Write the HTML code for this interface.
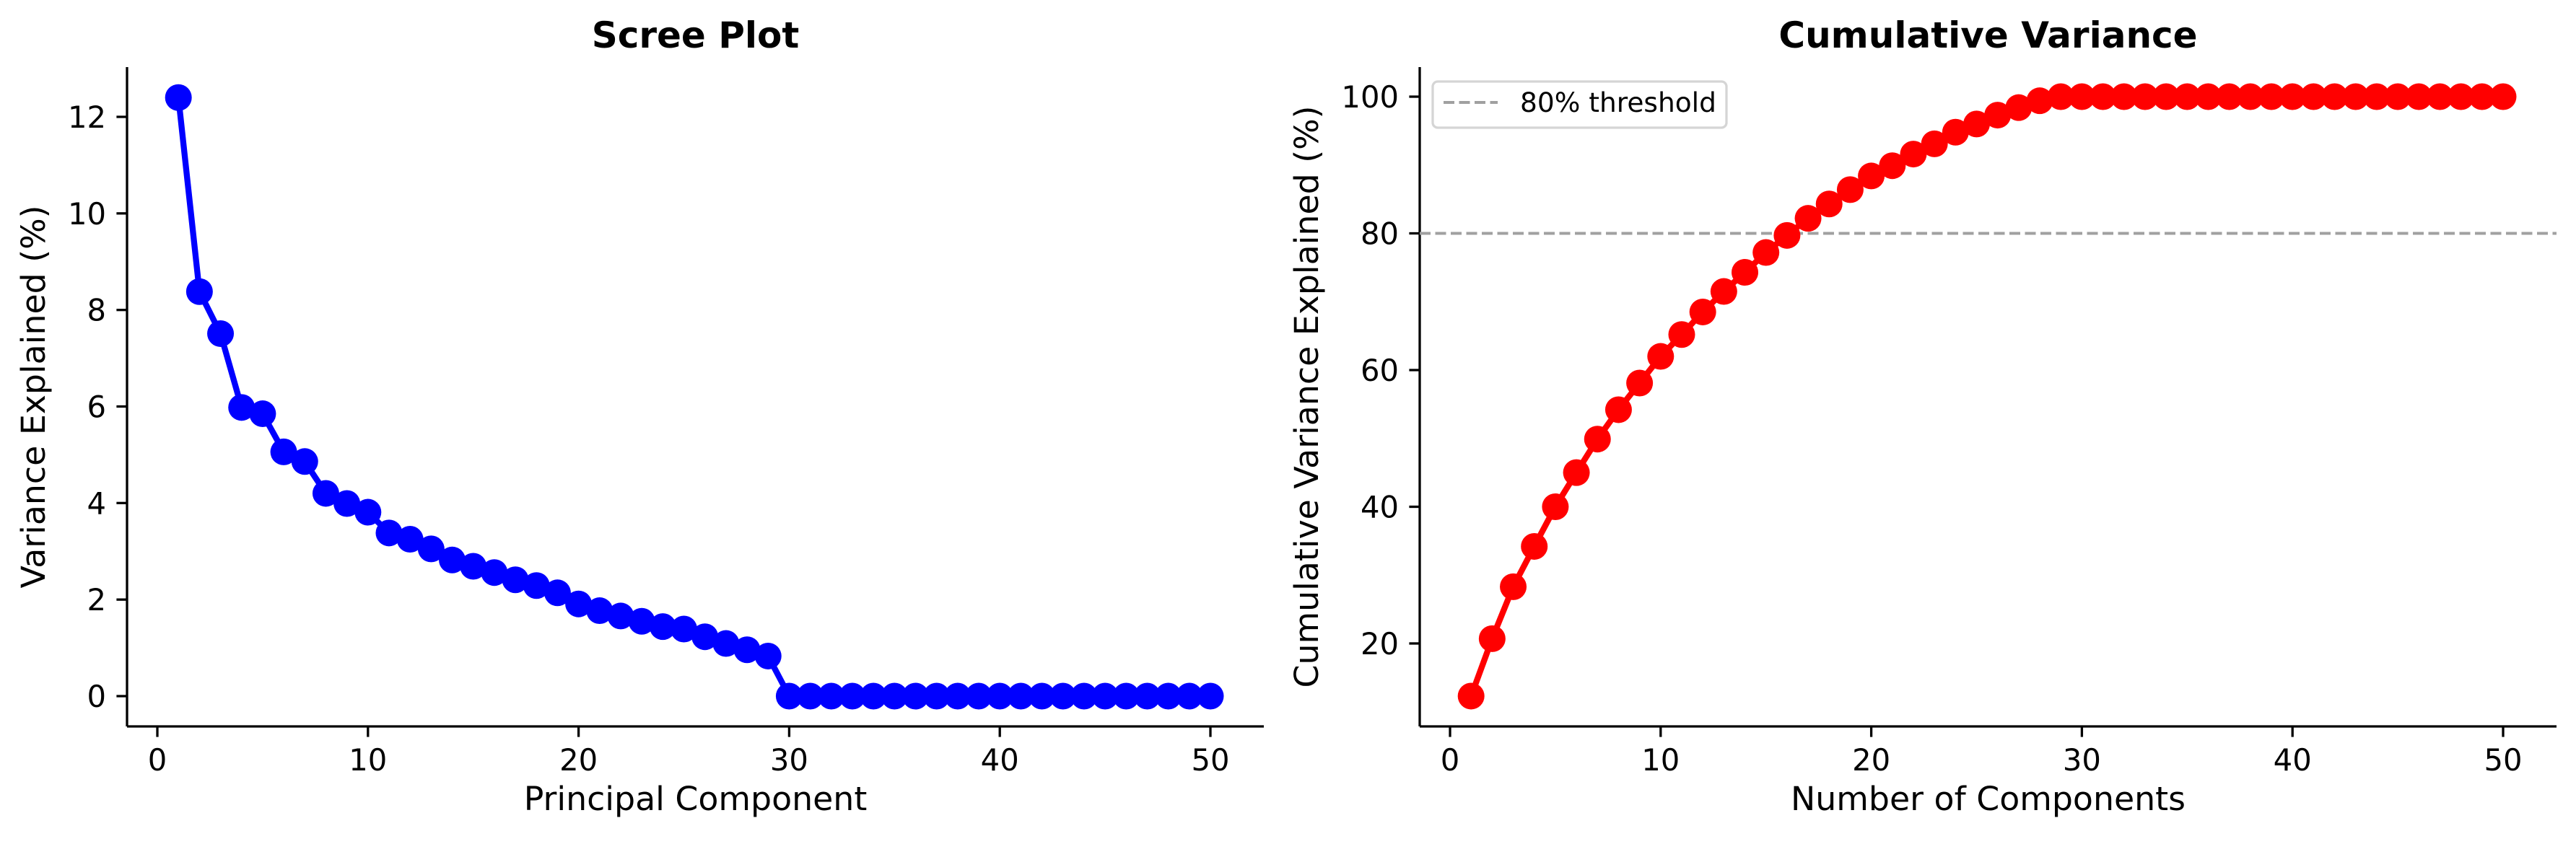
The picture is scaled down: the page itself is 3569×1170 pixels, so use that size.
<!DOCTYPE html>
<html><head><meta charset="utf-8"><style>
html,body{margin:0;padding:0;background:#fff;}
svg{display:block;font-family:"DejaVu Sans","Liberation Sans",sans-serif;}
</style></head><body>
<svg id="chart" width="3569" height="1170" viewBox="0 0 3569 1170" xmlns="http://www.w3.org/2000/svg">
<g id="left"></g>
<g id="right"></g>
</svg>
<script>
const components = Array.from({length:50},(_, i)=>i+1);
const screeValues = [12.4,8.38,7.51,5.98,5.85,5.06,4.86,4.2,3.99,3.81,3.38,3.25,3.05,2.82,2.69,2.56,2.41,2.29,2.14,1.91,1.77,1.66,1.55,1.44,1.39,1.23,1.09,0.96,0.83,0,0,0,0,0,0,0,0,0,0,0,0,0,0,0,0,0,0,0,0,0];
const cumulativeValues = [12.3,20.7,28.3,34.2,40.0,45.0,49.9,54.2,58.1,62.0,65.2,68.5,71.5,74.3,77.2,79.7,82.2,84.3,86.4,88.4,89.9,91.6,93.1,94.8,96.0,97.3,98.4,99.4,100,100,100,100,100,100,100,100,100,100,100,100,100,100,100,100,100,100,100,100,100,100];
const xTicks = [0,10,20,30,40,50];
const leftYTicks = [0,2,4,6,8,10,12];
const rightYTicks = [20,40,60,80,100];
const thresholdValue = [80];

const NS='http://www.w3.org/2000/svg';
function mk(parent,tag,attrs,text){const e=document.createElementNS(NS,tag);for(const k in attrs)e.setAttribute(k,attrs[k]);if(text!==undefined)e.textContent=text;parent.appendChild(e);return e;}

function panel(g,o){
  const sx=v=>o.x0+(v-0)*(o.x50-o.x0)/50;
  const sy=v=>o.yA+(v-o.vA)*(o.yB-o.yA)/(o.vB-o.vA);
  let e=mk(g,'line',{x1:o.L,y1:o.B,x2:o.R,y2:o.B,stroke:'#000','stroke-width':3.3});
  
  e=mk(g,'line',{x1:o.L,y1:o.T,x2:o.L,y2:o.B,stroke:'#000','stroke-width':3.3});
  
  xTicks.forEach(t=>{
    const x=sx(t);
    let l=mk(g,'line',{x1:x,y1:o.B,x2:x,y2:o.B+14.6,stroke:'#000','stroke-width':3.3});
    
    let tx=mk(g,'text',{x:x,y:1068,'font-size':41.7,'text-anchor':'middle',fill:'#000'},String(t));
    
  });
  o.yTicks.forEach(t=>{
    const y=sy(t);
    let l=mk(g,'line',{x1:o.L-14.6,y1:y,x2:o.L,y2:y,stroke:'#000','stroke-width':3.3});
    
    let tx=mk(g,'text',{x:o.L-29,y:y+15,'font-size':41.7,'text-anchor':'end',fill:'#000'},String(t));
    
  });
  const cx=(o.L+o.R)/2;
  let t=mk(g,'text',{x:cx,y:66,'font-size':50,'font-weight':'bold','text-anchor':'middle'},o.title);
  
  t=mk(g,'text',{x:cx,y:1123,'font-size':45.8,'text-anchor':'middle'},o.xlabel);
  
  const ym=(o.T+o.B)/2;
  t=mk(g,'text',{x:o.ylx,y:ym,'font-size':45.8,'text-anchor':'middle',transform:`rotate(-90 ${o.ylx} ${ym})`},o.ylabel);
  
  if(o.threshold){
    const y=sy(thresholdValue[0]);
    let l=mk(g,'line',{x1:o.L,y1:y,x2:o.R,y2:y,stroke:'#a0a0a0','stroke-width':4,'stroke-dasharray':'15 6.5'});
    
  }
  const pts=components.map((c,i)=>sx(c)+','+sy(o.values[i])).join(' ');
  let pl=mk(g,'polyline',{points:pts,fill:'none',stroke:o.color,'stroke-width':8.3,'stroke-linejoin':'round'});
  
  components.forEach((c,i)=>{
    let m=mk(g,'circle',{cx:sx(c),cy:sy(o.values[i]),r:18.5,fill:o.color});
    
  });
  if(o.threshold){
    let lg=mk(g,'g',{});
    
    let r=mk(lg,'rect',{x:1985,y:113,width:407,height:64,rx:7,fill:'#fff','fill-opacity':0.8,stroke:'#d5d5d5','stroke-width':3.3});
    
    let l=mk(lg,'line',{x1:2000,y1:142,x2:2075,y2:142,stroke:'#a0a0a0','stroke-width':4,'stroke-dasharray':'15 6.5'});
    
    let tx=mk(lg,'text',{x:2106,y:155,'font-size':37.5},'80% threshold');
    
  }
}
panel(document.getElementById('left'),{L:176,R:1751,T:93,B:1007,x0:218,x50:1677,yA:965,vA:0,yB:162,vB:12,yTicks:leftYTicks,values:screeValues,color:'#0000ff',title:'Scree Plot',xlabel:'Principal Component',ylabel:'Variance Explained (%)',ylx:62});
panel(document.getElementById('right'),{L:1967,R:3542,T:93,B:1007,x0:2009,x50:3468,yA:134,vA:100,yB:892,vB:20,yTicks:rightYTicks,values:cumulativeValues,color:'#ff0000',title:'Cumulative Variance',xlabel:'Number of Components',ylabel:'Cumulative Variance Explained (%)',ylx:1826,threshold:true});
</script>
</body></html>
